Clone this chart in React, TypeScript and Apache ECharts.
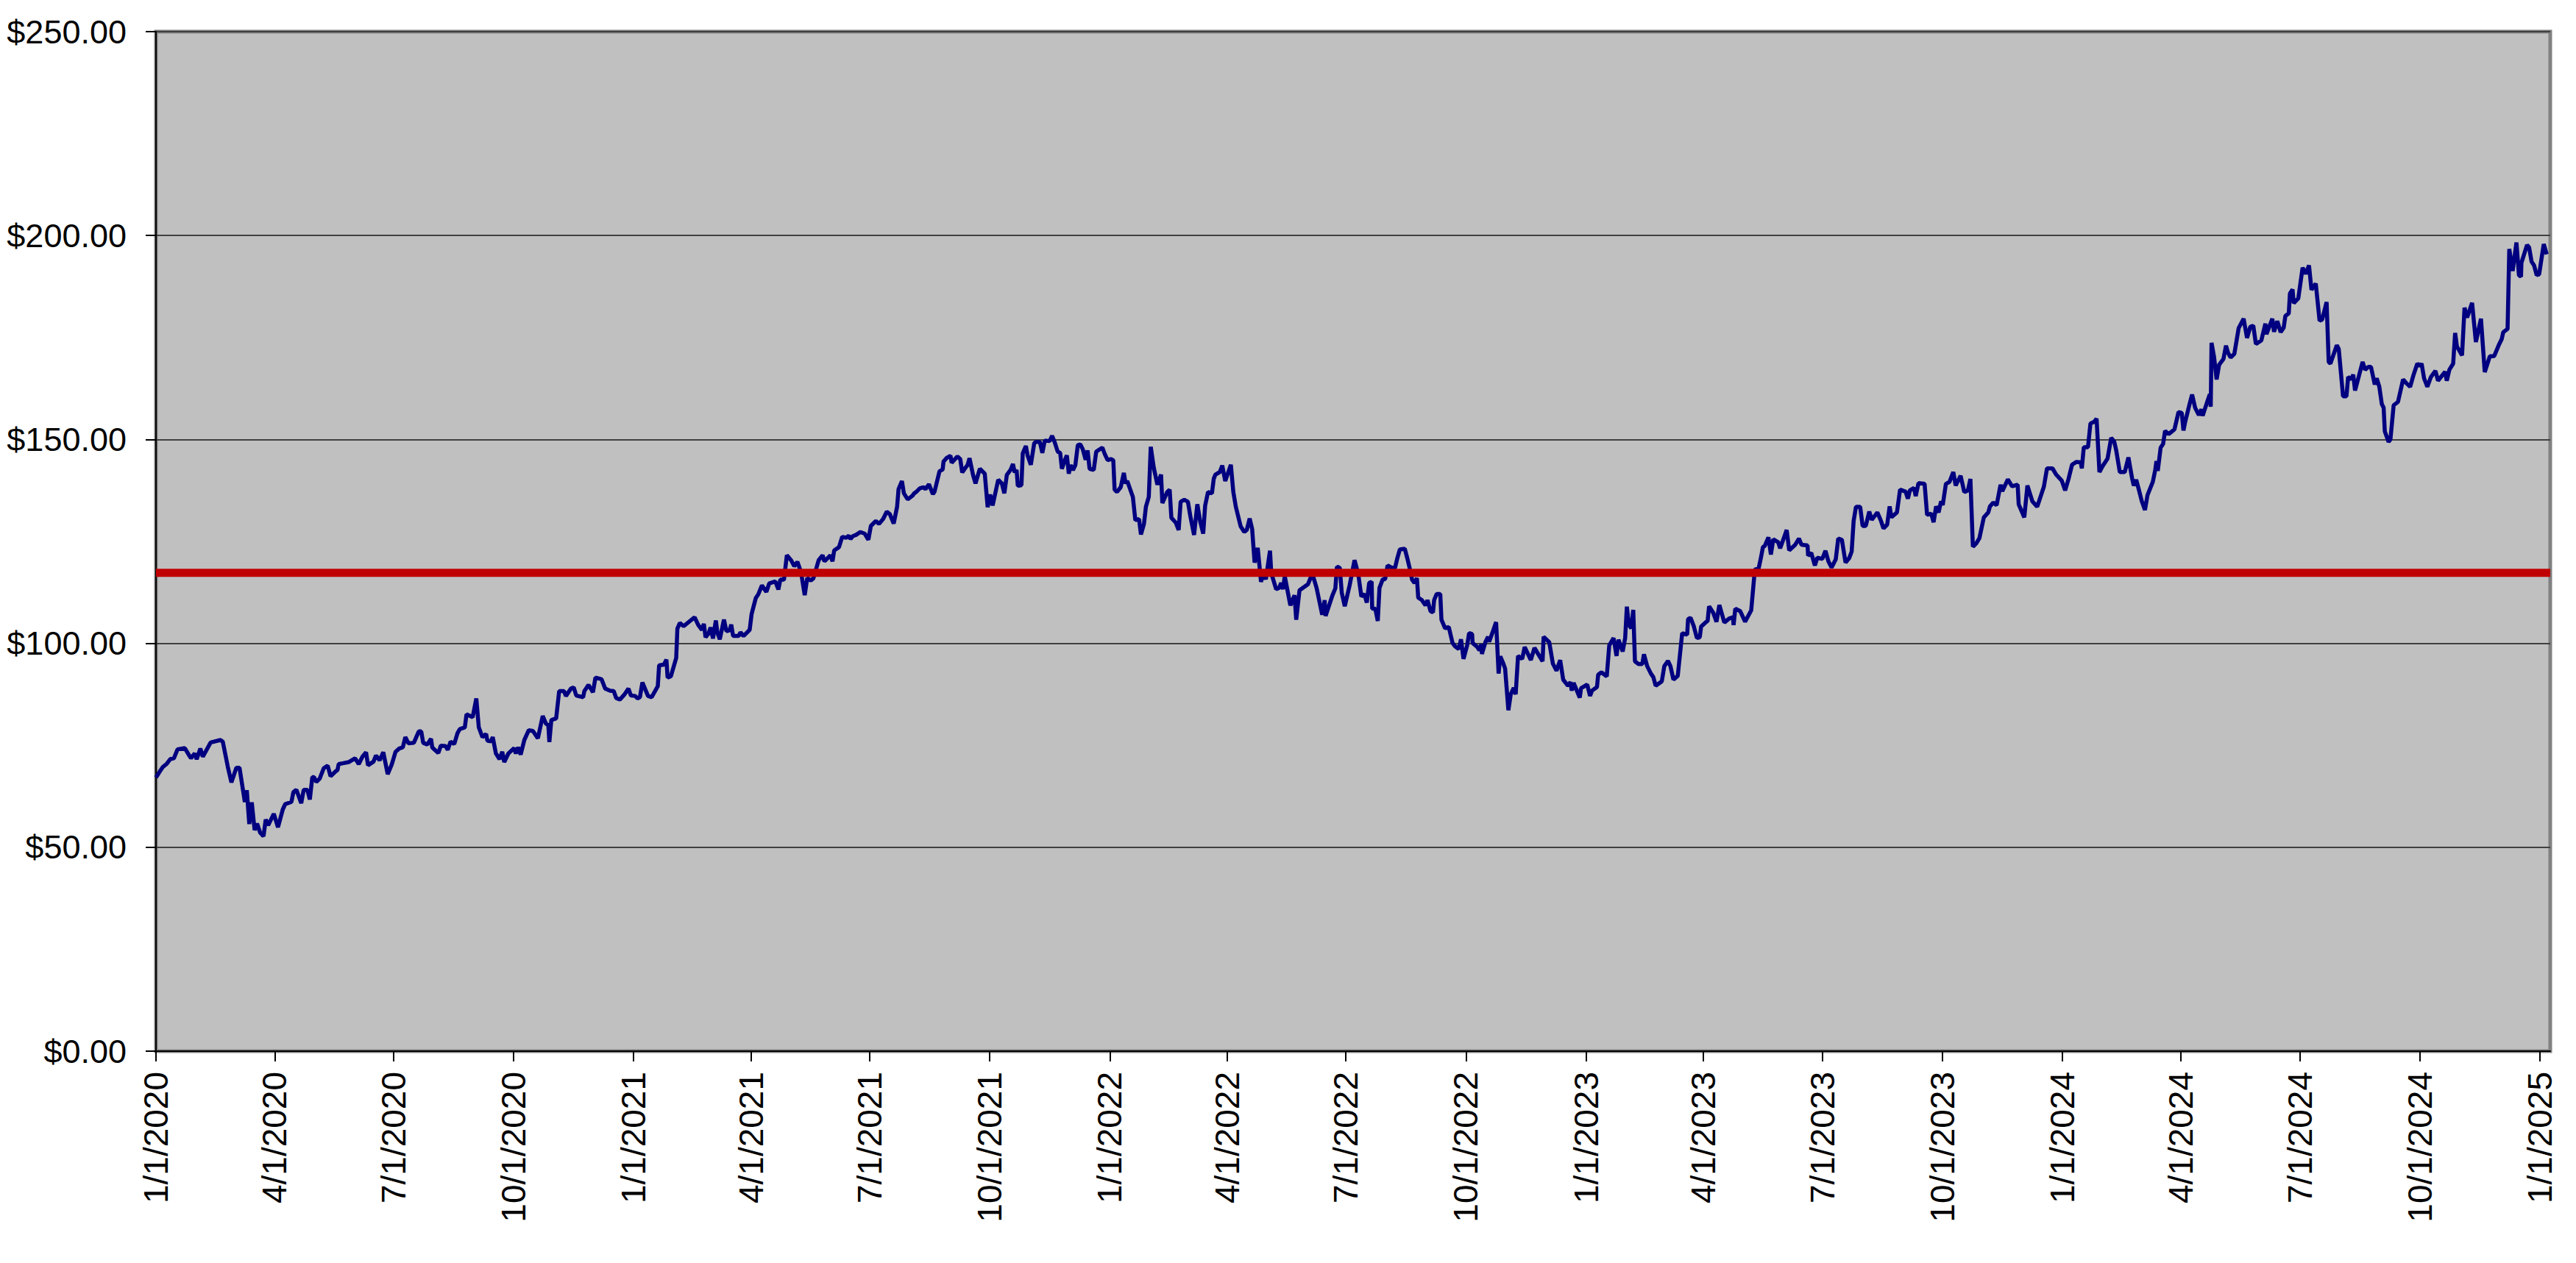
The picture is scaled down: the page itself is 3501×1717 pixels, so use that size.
import React, { useEffect, useRef } from "react";
import * as echarts from "echarts";

// ---- data (day offset from 1/1/2020, closing price) ----
const AXIS_START = "1/1/2020";
const AXIS_END = "1/9/2025";
const AVERAGE_PRICE = 117.3;
const Y_TICKS = [0, 50, 100, 150, 200, 250];
const X_TICK_LABELS = [
  "1/1/2020", "4/1/2020", "7/1/2020", "10/1/2020",
  "1/1/2021", "4/1/2021", "7/1/2021", "10/1/2021",
  "1/1/2022", "4/1/2022", "7/1/2022", "10/1/2022",
  "1/1/2023", "4/1/2023", "7/1/2023", "10/1/2023",
  "1/1/2024", "4/1/2024", "7/1/2024", "10/1/2024",
  "1/1/2025",
];

const price2020a = [
  [0,67.1],[2.4,68.3],[5.3,69.7],[8.1,70.4],[10.9,71.6],[13.7,71.8],[16.5,74.0],[22.1,74.3],[26.8,71.8],[29.7,73.0],[31.2,71.6],[34.0,74.2],[35.9,72.2],[41.9,75.7],[49.4,76.3],[51.2,75.9],[55.0,69.8],[57.8,65.9],[61.6,69.5],[64.0,69.5],[68.1,61.1],[69.6,64.0],[71.5,55.7],[73.4,61.0],[75.6,54.2],[77.5,55.8],[79.8,53.6],[82.4,52.7],[84.1,56.8],[86.0,55.4],[90.3,58.2],[93.5,54.9],[97.2,59.3],[99.1,60.6],[103.8,61.1],[105.3,63.5],[107.6,64.1],[111.3,60.8],[113.2,64.1],[116.0,64.1],[117.9,61.7],[119.8,67.2],[121.1,67.2],[122.9,66.0],[125.4,66.8],[128.6,69.4],[131.6,70.0],[133.8,67.4],[137.6,68.6],[139.1,68.9],[140.0,70.4],[143.2,70.6],[147.9,70.9],[152.6,71.8],[155.4,70.4],[158.2,72.2],[161.0,73.3],[162.5,70.1],[166.7,71.0],[168.6,72.5],[171.4,71.3],[174.2,73.3],[177.6,67.9],[180.7,70.3],[183.6,73.4],[186.4,74.2],[189.2,74.5],[191.1,77.0],[193.5,75.5],[197.6,75.6],[201.4,78.4],[203.3,78.4],[204.8,75.6],[208.0,75.2],[210.8,76.6],[211.7,74.5],[213.6,73.9],[216.4,73.1],[218.3,74.9],[222.0,74.8],[223.6,73.9],[225.8,75.9],[228.6,75.3],[231.1,78.0],[232.9,79.0],[236.7,79.4],[238.0,82.6],[242.7,81.9],[245.5,86.5],[247.4,79.4],[250.2,77.0],[253.0,77.8],[254.0,76.1],[256.8,76.0],[258.1,77.0],[260.5,73.0],[263.3,71.6],
];

const price2020b = [
  [265.4,73.4],[266.9,70.9],[270.1,73.0],[274.5,74.3],[275.8,73.0],[277.6,74.5],[279.5,72.7],[282.3,76.3],[285.7,78.7],[288.9,78.5],[292.7,76.7],[296.4,82.2],[298.9,80.3],[300.7,79.9],[301.5,75.8],[303.0,81.2],[306.7,81.6],[309.0,88.3],[312.7,88.3],[314.2,87.1],[318.0,88.9],[320.2,89.2],[322.1,87.2],[327.4,86.8],[328.3,88.3],[331.5,89.8],[334.9,88.0],[336.8,91.6],[341.5,91.2],[344.3,88.9],[348.0,88.4],[350.8,88.3],[352.7,86.6],[355.5,86.2],[358.9,87.4],[362.1,88.9],[364.0,87.2],[367.2,87.1],[369.0,86.5],[370.9,86.8],[372.8,90.4],[377.1,87.1],[379.9,86.8],[384.6,89.5],[385.6,94.6],[389.3,94.8],[391.2,96.0],[392.1,91.6],[394.6,91.9],[398.7,96.4],[399.6,103.6],[401.5,105.0],[404.3,104.2],[412.8,106.4],[415.6,104.5],[418.4,103.3],[419.9,104.8],[421.2,101.5],[423.5,102.4],[425.0,103.9],[426.9,101.2],[429.1,105.6],[430.2,102.7],[432.1,101.0],[435.3,105.8],[437.2,103.0],[439.6,103.2],[440.9,104.6],[442.3,101.8],[446.6,101.8],[447.9,102.7],[450.3,101.8],[455.0,103.3],[456.5,107.2],[459.7,111.1],[461.6,112.0],[464.4,114.2],[467.8,112.6],[470.0,114.7],[474.7,115.2],[477.0,113.2],[478.5,115.6],[481.3,115.6],[483.5,121.6],[486.9,120.3],[489.2,118.9],[491.6,120.0],[494.4,117.4],[497.2,111.8],[499.1,116.0],[501.9,115.4],[503.8,115.9],[507.9,120.4],[510.9,121.6],[512.3,120.1],[516.9,121.6],[518.5,120.1],[519.8,122.8],[522.6,123.4],
];

const price2021 = [
  [523.5,123.6],[525.9,126.1],[529.1,125.9],[531.0,126.4],[532.3,125.6],[534.2,126.3],[536.6,126.6],[539.8,127.3],[543.2,126.9],[546.0,125.4],[547.9,128.8],[551.7,130.0],[554.1,129.3],[557.3,130.5],[560.1,132.3],[562.4,131.7],[565.4,129.4],[568.0,133.5],[569.1,137.8],[571.7,139.8],[573.2,136.8],[576.1,135.3],[579.8,136.2],[581.1,136.8],[582.6,137.1],[585.4,138.0],[588.3,138.3],[589.8,137.8],[592.4,139.0],[595.4,136.6],[596.7,137.2],[600.5,142.2],[602.9,142.6],[603.6,144.6],[606.1,145.5],[608.9,146.0],[609.8,144.3],[614.2,145.8],[616.4,145.2],[617.9,141.9],[620.5,143.1],[622.0,143.7],[623.5,145.4],[626.2,141.3],[628.1,139.2],[631.4,142.8],[635.2,141.6],[637.4,133.4],[639.3,136.5],[641.2,133.8],[645.5,140.1],[648.3,139.2],[650.2,136.8],[652.1,141.3],[654.9,142.5],[656.8,144.0],[658.1,141.9],[659.6,142.5],[660.5,138.6],[663.3,138.8],[664.3,146.6],[666.7,148.4],[668.0,146.1],[670.5,143.8],[673.1,149.1],[674.6,149.4],[677.4,149.4],[679.3,146.7],[681.2,149.7],[684.9,149.6],[686.8,150.9],[688.7,149.4],[691.1,147.0],[693.0,146.7],[694.3,142.8],[696.2,144.6],[698.1,146.1],[699.6,141.6],[700.9,143.7],[702.8,142.5],[704.6,143.7],[706.5,148.6],[708.4,148.8],[710.3,147.6],[712.5,145.0],[714.0,147.3],[715.5,142.8],[718.7,142.5],[720.6,147.0],[725.3,148.0],[727.2,146.4],[729.4,144.9],[731.8,145.2],[733.7,144.9],[734.7,137.7],[736.5,137.1],[739.4,138.3],[741.8,141.8],[743.1,139.2],[744.4,139.8],[748.7,135.9],[750.6,130.2],[753.4,130.5],[754.9,126.7],[757.2,129.3],[758.7,133.5],[760.9,135.9],[762.4,148.2],[764.7,143.1],[767.5,138.9],[770.3,141.4],[771.3,134.4],[775.0,137.1],[776.9,137.7],[778.2,130.8],[781.6,129.6],
];

const price2022a = [
  [783.8,127.8],[785.3,134.7],[788.1,135.2],[790.9,134.7],[792.8,131.1],[795.6,126.6],[798.1,134.1],[800.3,129.9],[802.6,126.9],[804.1,133.8],[806.3,137.1],[809.3,136.8],[810.7,140.4],[812.0,141.4],[815.3,142.0],[817.2,143.6],[819.5,139.8],[823.8,143.8],[825.7,137.1],[827.6,133.5],[831.3,128.7],[834.1,127.3],[836.0,127.8],[838.2,130.6],[840.1,128.1],[842.0,119.8],[844.4,123.4],[846.9,115.1],[848.8,117.2],[850.6,115.7],[853.8,122.7],[854.8,117.2],[858.5,113.3],[860.8,113.6],[862.3,114.8],[863.8,113.3],[865.1,116.5],[867.0,113.3],[869.4,109.3],[872.6,111.8],[873.9,105.8],[876.4,113.0],[882.9,114.5],[884.8,116.0],[886.7,116.6],[889.5,113.6],[893.8,107.0],[895.7,110.6],[896.4,106.7],[901.7,111.8],[903.9,113.5],[905.1,118.8],[907.3,118.5],[908.8,112.4],[911.1,109.1],[914.8,114.2],[918.6,120.4],[921.4,117.1],[923.8,111.5],[926.1,112.1],[928.0,110.0],[929.8,114.8],[931.7,115.1],[932.1,108.5],[934.5,108.5],[936.4,105.5],[937.7,113.6],[940.2,115.7],[942.0,115.7],[943.9,119.1],[946.7,118.6],[949.6,118.5],[951.4,120.9],[953.3,123.0],[957.1,123.2],[959.0,120.9],[960.8,118.5],[962.7,115.6],[964.6,114.8],[966.4,116.0],[967.4,111.2],[970.2,110.6],[973.0,109.3],[974.5,110.6],[976.8,107.9],[978.7,107.6],[979.6,110.6],[981.5,112.1],[984.3,112.1],[985.2,105.8],[988.0,103.7],[990.8,104.0],[993.7,100.1],[995.6,99.3],[998.4,98.6],[1000.2,101.0],[1002.1,96.2],[1004.9,99.5],[1006.4,102.5],[1008.7,102.3],[1009.1,100.1],[1012.4,99.2],[1014.3,98.3],[1015.8,99.8],[1016.2,97.4],[1019.0,100.4],[1020.9,101.6],[1021.8,100.4],[1024.6,102.9],[1027.1,105.2],[1029.0,92.6],[1030.3,96.8],[1032.7,95.0],[1034.0,93.8],[1036.5,83.6],[1038.3,87.5],[1040.6,89.1],
];

const price2022b = [
  [1042.1,87.5],[1043.9,96.9],[1047.1,96.2],[1049.0,99.1],[1053.7,95.9],[1056.5,98.9],[1059.3,97.4],[1062.7,95.6],[1063.5,101.6],[1067.8,100.3],[1070.6,95.0],[1073.4,93.3],[1076.2,95.9],[1078.5,91.1],[1082.2,89.6],[1084.1,90.5],[1085.0,88.4],[1086.5,90.3],[1091.2,86.7],[1092.2,89.0],[1096.9,89.9],[1099.1,87.1],[1100.6,88.4],[1104.4,89.3],[1105.3,92.3],[1107.8,92.9],[1111.9,91.9],[1113.8,99.5],[1117.1,101.3],[1119.4,96.9],[1120.9,100.9],[1124.1,98.0],[1126.0,101.3],[1127.3,109.0],[1128.8,104.6],[1130.7,103.7],[1132.2,108.2],[1133.5,95.6],[1136.3,94.9],[1139.1,94.9],[1140.4,97.3],[1142.9,94.4],[1145.7,92.6],[1147.6,91.7],[1149.4,89.6],[1154.1,90.7],[1156.0,94.4],[1158.8,95.7],[1160.7,94.4],[1163.0,91.1],[1166.3,92.0],[1169.7,102.5],[1173.5,102.1],[1174.2,105.9],[1176.1,106.3],[1178.5,104.3],[1181.0,101.3],[1183.2,101.5],[1184.2,104.1],[1187.9,105.2],[1189.2,105.5],[1190.3,109.1],[1193.5,107.5],[1196.0,105.3],[1198.2,109.4],[1202.0,105.1],[1205.7,106.1],[1208.6,106.4],[1209.1,104.5],[1210.4,108.5],[1214.2,107.9],[1217.9,105.3],[1222.6,108.1],[1225.4,118.1],[1228.3,118.4],[1229.8,120.6],[1231.6,123.6],[1233.0,123.9],[1235.8,126.0],[1237.7,121.8],[1239.5,125.5],[1243.3,124.8],[1244.8,123.3],[1249.8,127.8],[1251.7,122.8],[1256.4,124.2],[1259.2,125.7],[1261.1,124.2],[1265.8,124.0],[1266.2,121.5],[1268.6,122.2],[1271.4,119.1],[1273.3,121.0],[1277.1,120.7],[1279.5,122.7],[1281.8,120.1],[1284.2,118.6],[1287.4,120.6],[1289.3,125.7],[1292.1,125.4],[1294.9,119.8],[1297.7,120.9],
];

const price2023 = [
  [1299.6,122.5],[1301.1,130.0],[1302.9,133.5],[1306.1,133.5],[1308.0,128.8],[1310.4,128.8],[1313.1,132.3],[1315.0,130.3],[1319.3,132.1],[1322.1,130.0],[1324.0,128.2],[1326.8,129.1],[1328.7,133.6],[1330.0,130.9],[1334.3,132.1],[1336.7,137.7],[1340.9,137.2],[1342.7,135.5],[1344.2,137.5],[1347.4,138.1],[1348.7,136.1],[1350.8,139.3],[1355.5,139.1],[1357.4,131.5],[1360.6,131.8],[1362.4,129.7],[1364.3,133.6],[1366.2,132.1],[1368.1,134.8],[1369.4,133.9],[1371.8,139.1],[1374.6,139.6],[1377.5,142.0],[1379.3,138.7],[1383.1,141.1],[1385.9,137.1],[1388.7,137.5],[1390.6,140.3],[1392.5,123.7],[1395.3,124.6],[1397.5,125.8],[1400.9,130.9],[1404.3,132.1],[1405.6,133.6],[1408.1,134.5],[1410.7,133.9],[1413.7,138.9],[1415.0,137.3],[1419.3,140.2],[1422.5,138.5],[1426.8,138.9],[1427.6,134.1],[1431.9,130.9],[1434.3,138.7],[1438.1,134.8],[1441.8,133.5],[1446.9,138.4],[1449.3,142.9],[1453.5,142.9],[1456.3,141.4],[1460.6,139.9],[1463.2,137.5],[1465.7,140.2],[1468.5,143.8],[1471.9,144.5],[1475.1,144.4],[1476.0,142.9],[1477.5,148.1],[1480.7,148.1],[1482.6,153.9],[1485.4,154.3],[1487.3,155.1],[1489.5,142.0],[1492.0,143.5],[1495.7,145.3],[1498.5,150.4],[1500.8,149.5],[1502.3,147.4],[1505.1,142.0],[1508.9,142.0],[1511.7,145.6],[1514.5,140.5],[1515.8,138.7],[1517.7,140.1],[1519.6,137.8],[1522.0,134.8],[1524.4,132.7],[1526.3,136.3],[1530.4,139.6],[1532.3,142.6],[1533.2,144.7],[1534.2,142.3],[1536.4,148.0],[1538.3,148.9],[1539.8,152.1],[1542.6,151.3],[1547.0,152.5],[1550.1,156.7],[1552.6,156.5],[1553.9,152.2],[1555.2,154.3],[1558.6,158.7],
];

const price2024 = [
  [1560.5,161.0],[1562.8,157.8],[1565.7,156.0],[1567.7,157.4],[1568.6,155.8],[1572.5,159.6],[1574.1,161.1],[1574.8,158.0],[1575.4,173.7],[1577.4,170.1],[1579.3,164.7],[1581.2,168.3],[1584.5,169.7],[1586.5,173.0],[1588.0,171.3],[1590.0,170.1],[1592.9,171.0],[1596.2,177.3],[1600.0,179.6],[1602.6,174.9],[1605.1,177.6],[1607.4,177.9],[1609.4,173.4],[1613.6,174.3],[1616.7,178.4],[1617.5,175.8],[1622.0,179.6],[1623.3,176.4],[1625.8,179.0],[1628.4,176.3],[1630.7,177.4],[1632.0,180.3],[1634.6,180.9],[1635.5,185.8],[1637.5,186.8],[1638.4,183.4],[1641.9,184.6],[1645.2,192.1],[1647.7,190.6],[1650.1,192.7],[1652.0,186.7],[1655.3,188.2],[1658.2,179.1],[1660.2,179.4],[1663.6,183.7],[1665.2,169.0],[1666.5,168.6],[1671.4,173.1],[1672.9,172.2],[1676.2,160.6],[1678.8,160.6],[1680.1,165.3],[1682.6,164.8],[1684.0,165.9],[1685.4,162.0],[1691.2,169.0],[1693.1,167.1],[1695.6,167.8],[1697.6,167.8],[1700.5,163.5],[1702.0,165.0],[1704.0,162.9],[1705.9,158.7],[1707.3,157.8],[1708.2,152.0],[1711.1,149.4],[1712.5,150.0],[1715.0,158.4],[1718.3,159.2],[1722.2,164.7],[1724.7,163.8],[1727.6,162.9],[1730.0,165.6],[1733.1,168.6],[1735.0,168.0],[1736.4,168.6],[1738.3,165.0],[1740.8,162.9],[1743.5,165.3],[1747.0,166.8],[1749.0,164.4],[1754.4,166.6],[1755.7,164.4],[1757.7,167.1],[1760.6,168.6],[1762.1,176.1],[1763.5,172.8],[1767.4,170.6],[1769.3,182.3],[1771.3,179.9],[1775.1,183.5],[1778.0,173.9],[1781.9,179.6],[1784.8,166.5],[1788.7,170.4],[1792.0,170.4],[1795.5,173.1],[1797.8,174.6],[1799.0,176.3],[1802.3,177.1],[1803.6,196.7],[1806.2,191.3],[1809.1,198.3],[1811.0,190.3],[1812.6,189.9],[1812.9,193.3],[1817.2,197.7],[1818.8,197.1],[1820.7,193.6],[1822.6,192.7],[1824.6,190.3],[1826.5,190.5],[1830.0,197.9],[1832.3,195.4],
];

// ---- helpers ----
const DAY_MS = 86400000;
function parseMDY(s: string): number {
  const [m, d, y] = s.split("/").map(Number);
  return Date.UTC(y, m - 1, d);
}
function fmtMDY(t: number): string {
  const d = new Date(t);
  return `${d.getUTCMonth() + 1}/${d.getUTCDate()}/${d.getUTCFullYear()}`;
}
const START_MS = parseMDY(AXIS_START);
const END_MS = parseMDY(AXIS_END);

export default function App() {
  const ref = useRef<HTMLDivElement>(null);

  useEffect(() => {
    if (!ref.current) return;
    const chart = echarts.init(ref.current, null, { renderer: "svg" });

    const all = [
      ...price2020a, ...price2020b, ...price2021, ...price2022a,
      ...price2022b, ...price2023, ...price2024,
    ].map(([d, v]) => [START_MS + d * DAY_MS, v]);

    const tickValues = X_TICK_LABELS.map(parseMDY);
    const font = "'Liberation Sans', Arial, sans-serif";

    chart.setOption({
      animation: false,
      backgroundColor: "#ffffff",
      grid: {
        left: 212,
        right: 35,
        top: 43,
        bottom: 288,
        containLabel: false,
        show: true,
        backgroundColor: "#C0C0C0",
        borderColor: "#808080",
        borderWidth: 5,
      },
      xAxis: {
        type: "value",
        min: START_MS,
        max: END_MS,
        axisLine: { show: true, onZero: false, lineStyle: { color: "#000000", width: 2 } },
        axisTick: {
          show: true,
          length: 14,
          inside: false,
          customValues: tickValues,
          lineStyle: { color: "#000000", width: 2 },
        },
        axisLabel: {
          show: true,
          rotate: 90,
          margin: 28,
          customValues: tickValues,
          fontFamily: font,
          fontSize: 46,
          color: "#000000",
          formatter: (v: number) => fmtMDY(v),
          hideOverlap: false,
          showMinLabel: true,
          showMaxLabel: true,
        },
        splitLine: { show: false },
        minorTick: { show: false },
      },
      yAxis: {
        type: "value",
        min: Y_TICKS[0],
        max: Y_TICKS[Y_TICKS.length - 1],
        interval: 50,
        axisLine: { show: true, lineStyle: { color: "#000000", width: 2 } },
        axisTick: { show: true, length: 14, inside: false, lineStyle: { color: "#000000", width: 2 } },
        axisLabel: {
          margin: 40,
          fontFamily: font,
          fontSize: 45,
          color: "#000000",
          formatter: (v: number) => "$" + v.toFixed(2),
        },
        splitLine: { show: true, lineStyle: { color: "#404040", width: 2 } },
      },
      series: [
        {
          name: "Price",
          type: "line",
          data: all,
          showSymbol: false,
          symbol: "none",
          lineStyle: { color: "#000080", width: 5.5 },
          z: 2,
        },
        {
          name: "Average",
          type: "line",
          data: [
            [START_MS, AVERAGE_PRICE],
            [END_MS, AVERAGE_PRICE],
          ],
          showSymbol: false,
          symbol: "none",
          lineStyle: { color: "#C00000", width: 11 },
          z: 3,
        },
      ],
    });

    return () => chart.dispose();
  }, []);

  return (
    <div
      ref={ref}
      style={{ position: "fixed", left: 0, top: 0, width: 3501, height: 1717, background: "#fff" }}
    />
  );
}
